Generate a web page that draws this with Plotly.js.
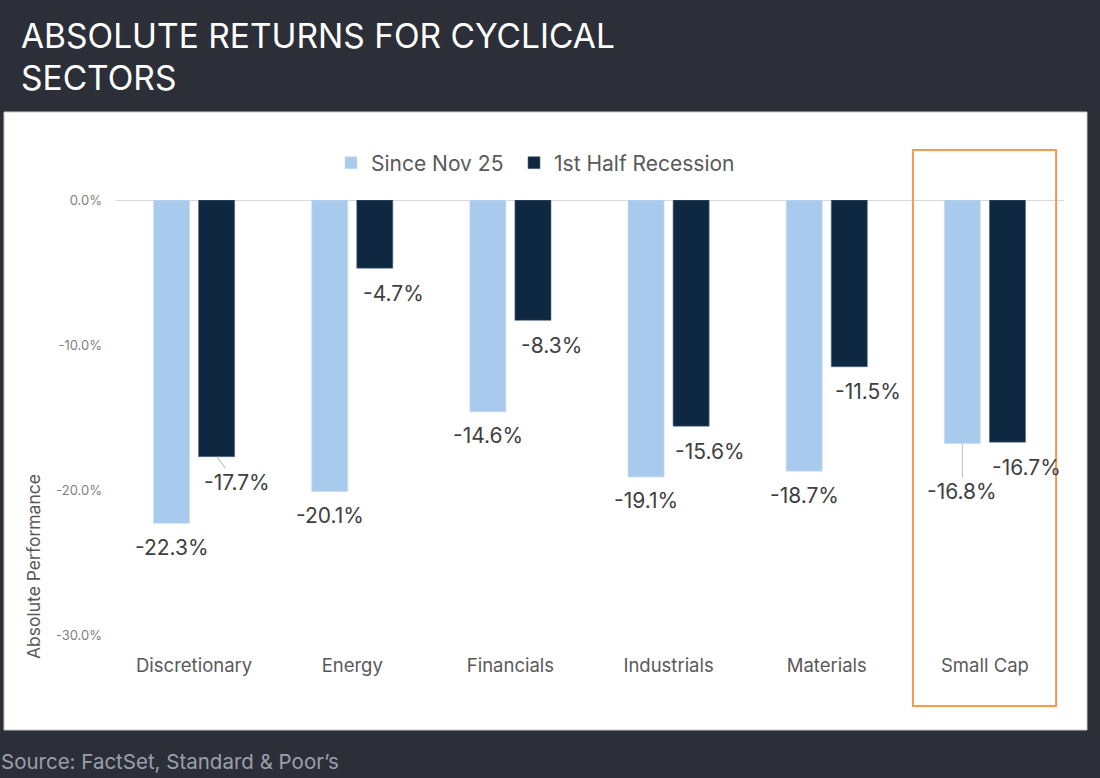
<!DOCTYPE html>
<html>
<head>
<meta charset="utf-8">
<script src="https://cdn.plot.ly/plotly-3.0.1.min.js"></script>
<style>
html,body{margin:0;padding:0;background:#2c2f38;}
#chart{width:1100px;height:778px;}
</style>
</head>
<body>
<div id="chart"></div>
<script>
// ---- data ----
const categories = ["Discretionary", "Energy", "Financials", "Industrials", "Materials", "Small Cap"];
const sinceNov25 = [-22.3, -20.1, -14.6, -19.1, -18.7, -16.8];
const firstHalfRecession = [-17.7, -4.7, -8.3, -15.6, -11.5, -16.7];
const seriesNames = ["Since Nov 25", "1st Half Recession"];
const yTickVals = [0, -10, -20, -30];
const titleLines = ["ABSOLUTE RETURNS FOR CYCLICAL", "SECTORS"];

// ---- styling ----
const LIGHT = "#a8caec";
const DARK = "#0f2841";
const BG = "#2c2f38";
const FONT = "Inter, 'Open Sans', sans-serif";
const fmt = v => v.toFixed(1) + "%";

const traces = [
  {type: "bar", name: seriesNames[0], x: categories, y: sinceNov25, legend: "legend",
   marker: {color: LIGHT, line: {color: "#c9ddf2", width: 0.6}}, hoverinfo: "none"},
  {type: "bar", name: seriesNames[1], x: categories, y: firstHalfRecession, legend: "legend2",
   marker: {color: DARK, line: {color: "#5a6b7f", width: 0.6}}, hoverinfo: "none"}
];

// plot area in px: left 115, right 1064, top 200, bottom 635
const L = 115, R = 1064, T = 200, B = 635;
const px = X => (X - L) / (R - L);
const py = Y => (B - Y) / (B - T);

const annotations = [];
const labelFont = {family: FONT, size: 21, color: "#404040"};
categories.forEach((c, i) => {
  // light series label
  if (c === "Small Cap") {
    annotations.push({x: c, y: sinceNov25[i], xref: "x", yref: "y", xshift: -22.5,
      text: fmt(sinceNov25[i]), showarrow: true, arrowhead: 0, arrowwidth: 1.2,
      arrowcolor: "#c8c8c8", ax: 0, ay: 48, standoff: 0, font: labelFont});
  } else {
    annotations.push({x: c, y: sinceNov25[i], xref: "x", yref: "y", xshift: -22.5, yshift: -24,
      text: fmt(sinceNov25[i]), showarrow: false, yanchor: "middle", font: labelFont});
  }
  // dark series label
  if (c === "Discretionary") {
    annotations.push({x: c, y: firstHalfRecession[i], xref: "x", yref: "y", xshift: 22.5,
      text: fmt(firstHalfRecession[i]), showarrow: true, arrowhead: 0, arrowwidth: 1,
      arrowcolor: "#b0b0b0", ax: 20, ay: 26, standoff: 0, font: labelFont});
  } else {
    annotations.push({x: c, y: firstHalfRecession[i], xref: "x", yref: "y", xshift: 22.5 + 19, yshift: -25,
      text: fmt(firstHalfRecession[i]), showarrow: false, yanchor: "middle", font: labelFont});
  }
});

// title lines
annotations.push({xref: "paper", yref: "paper", x: px(19), y: py(36), text: titleLines[0],
  showarrow: false, xanchor: "left", yanchor: "middle",
  font: {family: FONT, size: 33.5, color: "#ffffff"}});
annotations.push({xref: "paper", yref: "paper", x: px(19), y: py(78), text: titleLines[1],
  showarrow: false, xanchor: "left", yanchor: "middle",
  font: {family: FONT, size: 33.5, color: "#ffffff"}});
// y axis title (placed low, like the reference)
annotations.push({xref: "paper", yref: "paper", x: px(33), y: py(567), text: "Absolute Performance",
  textangle: -90, showarrow: false, xanchor: "center", yanchor: "middle",
  font: {family: FONT, size: 17.5, color: "#595959"}});
// source
annotations.push({xref: "paper", yref: "paper", x: px(-1), y: py(761), text: "Source: FactSet, Standard &amp; Poor’s",
  showarrow: false, xanchor: "left", yanchor: "middle",
  font: {family: FONT, size: 20.5, color: "#9aa0ab"}});

const shapes = [
  // white panel
  {type: "rect", xref: "paper", yref: "paper", x0: px(4), x1: px(1087), y0: py(730), y1: py(112),
   fillcolor: "#ffffff", line: {color: "#c8c8c8", width: 1}, layer: "below"},
  // orange highlight box around Small Cap
  {type: "rect", xref: "x", yref: "paper", x0: 4.545, x1: 5.45, y0: py(706), y1: py(150),
   fillcolor: "rgba(0,0,0,0)", line: {color: "#f79a4e", width: 2}, layer: "above"}
];

const legendFont = {family: FONT, size: 21, color: "#595959"};
const layout = {
  width: 1100, height: 778,
  paper_bgcolor: BG, plot_bgcolor: "#ffffff",
  margin: {l: L, r: 1100 - R, t: T, b: 778 - B, pad: 0},
  font: {family: FONT},
  barmode: "group", bargap: 0.43, bargroupgap: 0.2,
  showlegend: true,
  legend: {orientation: "h", x: px(331), xanchor: "left", y: py(163), yanchor: "middle",
    font: legendFont, bgcolor: "rgba(0,0,0,0)", itemclick: false},
  legend2: {orientation: "h", x: px(514), xanchor: "left", y: py(163), yanchor: "middle",
    font: legendFont, bgcolor: "rgba(0,0,0,0)", itemclick: false},
  xaxis: {type: "category", showgrid: false, zeroline: false, showline: false, ticks: "",
    tickfont: {family: FONT, size: 18.5, color: "#595959"}, ticklabelstandoff: 17, fixedrange: true},
  yaxis: {range: [-30, 0], tickmode: "array", tickvals: yTickVals, ticktext: yTickVals.map(fmt),
    showgrid: false, zeroline: true, zerolinecolor: "#d9d9d9", zerolinewidth: 1, showline: false,
    ticks: "", tickfont: {family: FONT, size: 13, color: "#7f7f7f"}, ticklabelstandoff: 12, fixedrange: true},
  annotations: annotations,
  shapes: shapes
};

Plotly.newPlot("chart", traces, layout, {displayModeBar: false, staticPlot: true});
</script>
</body>
</html>
